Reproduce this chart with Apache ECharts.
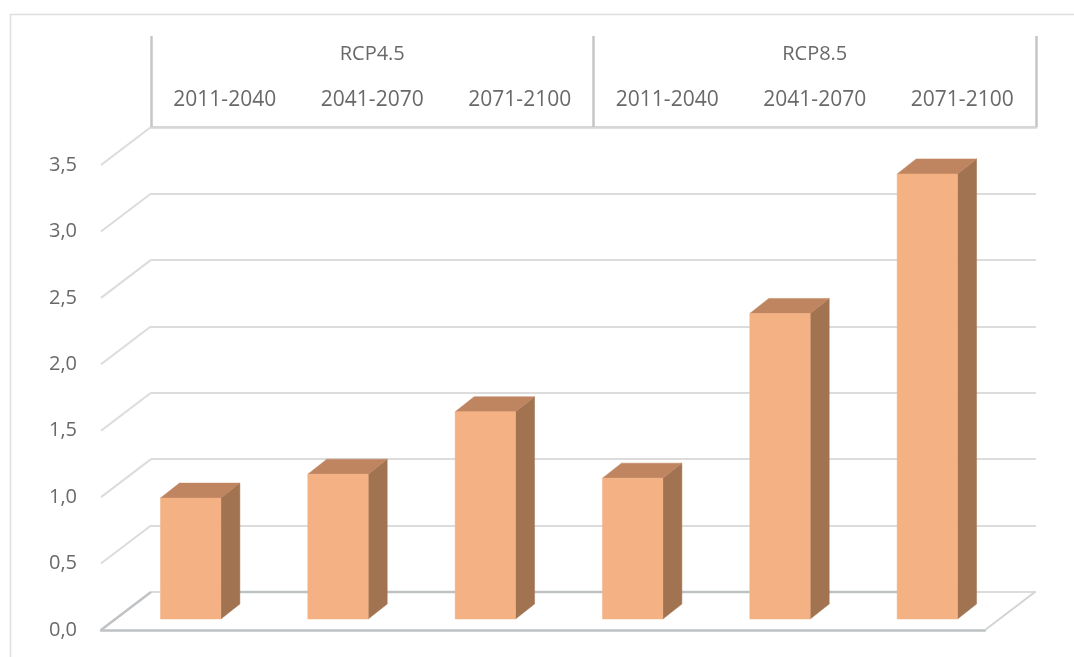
<!DOCTYPE html>
<html>
<head>
<meta charset="utf-8">
<style>html,body{margin:0;padding:0;background:#fff}#c{width:1074px;height:657px}</style>
<script src="https://cdn.jsdelivr.net/npm/echarts@6/dist/echarts.min.js"></script>
</head>
<body>
<div id="c"></div>
<script>
const scenarios = ['RCP4.5', 'RCP8.5'];
const periods = ['2011-2040', '2041-2070', '2071-2100', '2011-2040', '2041-2070', '2071-2100'];
const values = [0.91, 1.09, 1.56, 1.06, 2.30, 3.35];
const yTicks = [0, 0.5, 1, 1.5, 2, 2.5, 3, 3.5];

const FONT = '"Open Sans", sans-serif';
const TEXT = '#696969';
const DEPTH = [50, -38];

const chart = echarts.init(document.getElementById('c'), null, {renderer: 'canvas'});

function poly(points, fill) {
  return {type: 'polygon', shape: {points}, style: {fill, stroke: fill, lineWidth: 0.5}};
}
function renderBar(params, api) {
  const i = api.value(0), v = api.value(1);
  const base = api.coord([i, 0]), top = api.coord([i, v]);
  const w = api.size([1, 0])[0] * 0.41;
  const x0 = base[0] + 16 - w / 2, x1 = x0 + w;
  const yb = base[1] - 11, yt = top[1] - 11;
  const dx = 19, dy = -15;
  return {type: 'group', children: [
    poly([[x1, yt], [x1 + dx, yt + dy], [x1 + dx, yb + dy], [x1, yb]], '#a17350'),
    poly([[x0, yt], [x0 + dx, yt + dy], [x1 + dx, yt + dy], [x1, yt]], '#bf8560'),
    poly([[x0, yt], [x1, yt], [x1, yb], [x0, yb]], '#f4b183')
  ]};
}
function renderDiagonal(params, api) {
  const v = api.value(0);
  const p = api.coord([0, v]);
  const h = api.size([1, 0])[0] / 2;
  const x = p[0] - h;
  const line = {type: 'line',
    shape: {x1: x, y1: p[1], x2: x + DEPTH[0], y2: p[1] + DEPTH[1]},
    style: {stroke: v === 0 ? '#bfc2c4' : '#dcdcdc', lineWidth: v === 0 ? 2.5 : 2}};
  if (v !== 0) return line;
  const xr = api.coord([periods.length - 1, 0])[0] + h;
  return {type: 'group', children: [line, {type: 'line',
    shape: {x1: xr, y1: p[1], x2: xr + DEPTH[0], y2: p[1] + DEPTH[1]},
    style: {stroke: '#d2d4d5', lineWidth: 2}}]};
}

chart.setOption({
  animation: false,
  backgroundColor: '#fff',
  graphic: [{type: 'polyline', silent: true, shape: {points: [[10.5, 657], [10.5, 14.5], [1074, 14.5]]},
    style: {fill: 'none', stroke: '#dedede', lineWidth: 1.5}}],
  grid: [
    {left: 101, width: 884, top: 165, height: 465},
    {left: 151, width: 885, top: 127, height: 465},
    {left: 151, width: 885, top: 36, height: 91}
  ],
  xAxis: [
    {gridIndex: 0, type: 'category', data: periods, position: 'bottom',
     axisLine: {show: true, lineStyle: {color: '#bfc2c4', width: 2.5}}, axisTick: {show: false}, axisLabel: {show: false}},
    {gridIndex: 1, type: 'category', data: periods, show: false},
    {gridIndex: 2, type: 'category', data: periods, position: 'bottom',
     axisLine: {show: true, lineStyle: {color: '#d6d6d6', width: 2.5}}, axisTick: {show: false},
     axisLabel: {inside: true, interval: 0, margin: 16, fontFamily: FONT, fontSize: 21, color: TEXT}},
    {gridIndex: 2, type: 'category', data: scenarios, position: 'top',
     axisLine: {show: false},
     axisTick: {show: true, inside: true, length: 91, lineStyle: {color: '#c6c6c6', width: 2.5}},
     axisLabel: {inside: true, interval: 0, margin: 8, fontFamily: FONT, fontSize: 20, color: TEXT}}
  ],
  yAxis: [
    {gridIndex: 0, type: 'value', min: 0, max: 3.5, interval: 0.5,
     axisLine: {show: false}, axisTick: {show: false}, splitLine: {show: false},
     axisLabel: {margin: 24, padding: [5, 0, 0, 0], fontFamily: FONT, fontSize: 20, color: TEXT,
       formatter: v => v.toFixed(1).replace('.', ',')}},
    {gridIndex: 1, type: 'value', min: 0, max: 3.5, interval: 0.5,
     axisLine: {show: false}, axisTick: {show: false}, axisLabel: {show: false},
     splitLine: {show: true, lineStyle: {color: '#dcdcdc', width: 2}}},
    {gridIndex: 2, type: 'value', show: false}
  ],
  series: [
    {type: 'line', xAxisIndex: 1, yAxisIndex: 1, data: [[0, 0], [5, 0]], symbol: 'none', z: 2,
     lineStyle: {color: '#bfc2c4', width: 2.5}, clip: false,
     encode: {x: 0, y: 1}, silent: true},
    {type: 'custom', xAxisIndex: 0, yAxisIndex: 0, clip: false, z: 3, silent: true,
     data: yTicks.map(v => [v]), encode: {y: 0}, renderItem: renderDiagonal},
    {type: 'custom', xAxisIndex: 0, yAxisIndex: 0, clip: false, z: 5, silent: true,
     data: values.map((v, i) => [i, v]), encode: {x: 0, y: 1}, renderItem: renderBar}
  ]
});
</script>
</body>
</html>
